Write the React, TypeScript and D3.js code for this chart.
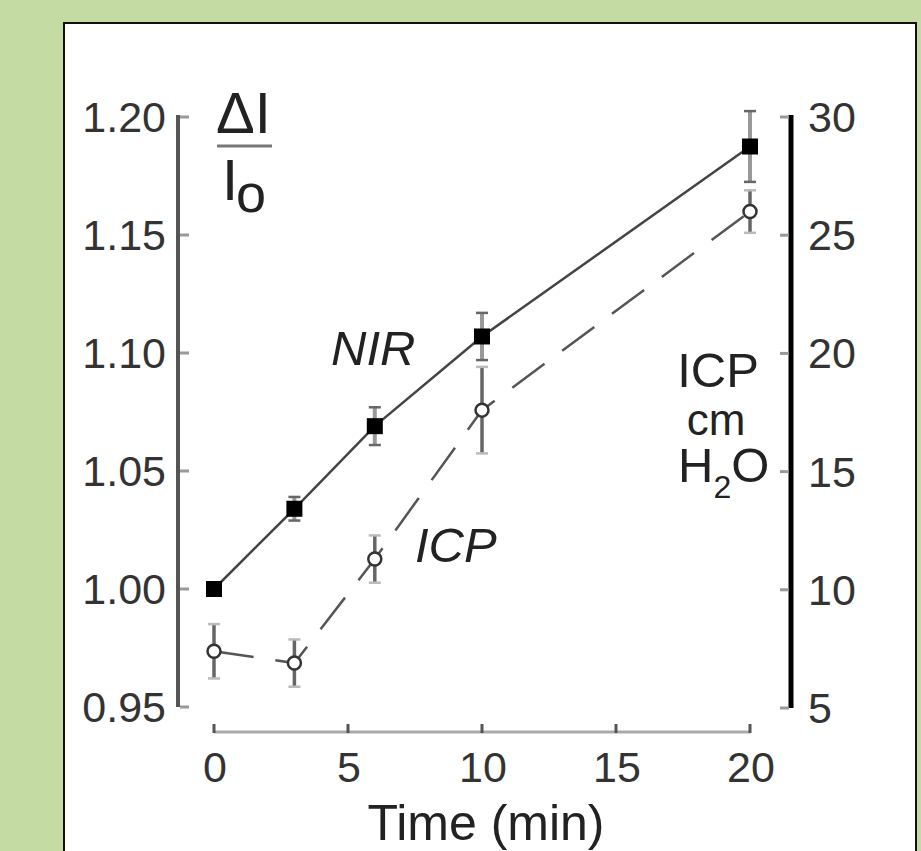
import React from 'react';
import * as d3 from 'd3';

// values
const times = [0, 3, 6, 10, 20];
const nir = [1.0, 1.034, 1.069, 1.107, 1.1875];
const nirErr = [0, 0.005, 0.008, 0.01, 0.015];
const icp = [7.4, 6.9, 11.3, 17.6, 26.0];
const icpErr = [1.15, 1.0, 1.0, 1.83, 0.9];

const leftTicks = [0.95, 1.0, 1.05, 1.1, 1.15, 1.2];
const rightTicks = [5, 10, 15, 20, 25, 30];
const timeTicks = [0, 5, 10, 15, 20];

const FONT = '"Liberation Sans", Arial, Helvetica, sans-serif';

const App = () => {
  const x = d3.scaleLinear().domain([0, 20]).range([214, 750]);
  const yL = d3.scaleLinear().domain([0.95, 1.2]).range([707, 117]);
  const yR = d3.scaleLinear().domain([5, 30]).range([708, 117]);

  const nirLine = d3.line<number>()
    .x((d, i) => x(times[i]))
    .y(d => yL(d));
  const icpLine = d3.line<number>()
    .x((d, i) => x(times[i]))
    .y(d => yR(d));

  return (
    <svg width={921} height={851} style={{ position: 'absolute', left: 0, top: 0 }} fontFamily={FONT}>
      <rect x={0} y={0} width={921} height={851} fill="#c4dca4" />
      <rect x={64} y={23} width={852} height={840} fill="#fff" stroke="#111" strokeWidth={2} />

      {/* left axis */}
      <line x1={178} x2={178} y1={yL(1.2) - 2} y2={yL(0.95)} stroke="#555" strokeWidth={4} />
      {leftTicks.map(t => (
        <g key={t}>
          <line x1={180} x2={189} y1={yL(t)} y2={yL(t)} stroke="#999" strokeWidth={3} />
          <text x={166} y={yL(t) + 15} fontSize={43} textAnchor="end" fill="#333">{t.toFixed(2)}</text>
        </g>
      ))}

      {/* right axis */}
      <line x1={791} x2={791} y1={yR(30) - 2} y2={yR(5)} stroke="#000" strokeWidth={5} />
      {rightTicks.map(t => (
        <g key={t}>
          <line x1={780} x2={789} y1={yR(t)} y2={yR(t)} stroke="#999" strokeWidth={3} />
          <text x={808} y={yR(t) + 15} fontSize={43} fill="#333">{t}</text>
        </g>
      ))}

      {/* bottom axis */}
      <line x1={x(0)} x2={x(20)} y1={732} y2={732} stroke="#aaa" strokeWidth={3} />
      {timeTicks.map(t => (
        <g key={t}>
          <line x1={x(t)} x2={x(t)} y1={724} y2={733} stroke="#555" strokeWidth={3} />
          <text x={x(t) + 1} y={782} fontSize={43} textAnchor="middle" fill="#333">{t}</text>
        </g>
      ))}
      <text x={486} y={840} fontSize={50} textAnchor="middle" fill="#222">Time (min)</text>

      {/* y label ΔI / Io */}
      <text x={216} y={133} fontSize={58} fill="#222">ΔI</text>
      <line x1={217} x2={272} y1={146} y2={146} stroke="#777" strokeWidth={3} />
      <text x={222} y={200} fontSize={58} fill="#222">I</text>
      <text x={236} y={212} fontSize={54} fill="#222">o</text>

      {/* right label */}
      <text x={718} y={387} fontSize={49} textAnchor="middle" fill="#222">ICP</text>
      <text x={716} y={435} fontSize={44} textAnchor="middle" fill="#222">cm</text>
      <text x={678} y={482} fontSize={49} fill="#222">H<tspan fontSize={32} dy={16}>2</tspan><tspan dy={-16} fontSize={49}>O</tspan></text>

      {/* series labels */}
      <text x={331} y={365} fontSize={49} fontStyle="italic" fill="#222">NIR</text>
      <text x={415} y={562} fontSize={49} fontStyle="italic" fill="#222">ICP</text>

      {/* ICP dashed line */}
      <path d={icpLine(icp) || ''} fill="none" stroke="#555" strokeWidth={2.5} strokeDasharray="40 22" />
      {icp.map((v, i) => (
        <g key={'icp' + i}>
          <line x1={x(times[i])} x2={x(times[i])} y1={yR(v + icpErr[i])} y2={yR(v - icpErr[i])} stroke="#666" strokeWidth={3.5} />
          <line x1={x(times[i]) - 6} x2={x(times[i]) + 6} y1={yR(v + icpErr[i])} y2={yR(v + icpErr[i])} stroke="#bbb" strokeWidth={2.5} />
          <line x1={x(times[i]) - 6} x2={x(times[i]) + 6} y1={yR(v - icpErr[i])} y2={yR(v - icpErr[i])} stroke="#bbb" strokeWidth={2.5} />
          <circle cx={x(times[i])} cy={yR(v)} r={6.5} fill="#fff" stroke="#333" strokeWidth={2.5} />
        </g>
      ))}

      {/* NIR solid line */}
      <path d={nirLine(nir) || ''} fill="none" stroke="#444" strokeWidth={2.5} />
      {nir.map((v, i) => (
        <g key={'nir' + i}>
          {nirErr[i] > 0 && (
            <>
              <line x1={x(times[i])} x2={x(times[i])} y1={yL(v + nirErr[i])} y2={yL(v - nirErr[i])} stroke="#999" strokeWidth={4} />
              <line x1={x(times[i]) - 6} x2={x(times[i]) + 6} y1={yL(v + nirErr[i])} y2={yL(v + nirErr[i])} stroke="#666" strokeWidth={2.5} />
              <line x1={x(times[i]) - 6} x2={x(times[i]) + 6} y1={yL(v - nirErr[i])} y2={yL(v - nirErr[i])} stroke="#666" strokeWidth={2.5} />
            </>
          )}
          <rect x={x(times[i]) - 8} y={yL(v) - 8} width={16} height={16} fill="#000" />
        </g>
      ))}
    </svg>
  );
};

export default App;
